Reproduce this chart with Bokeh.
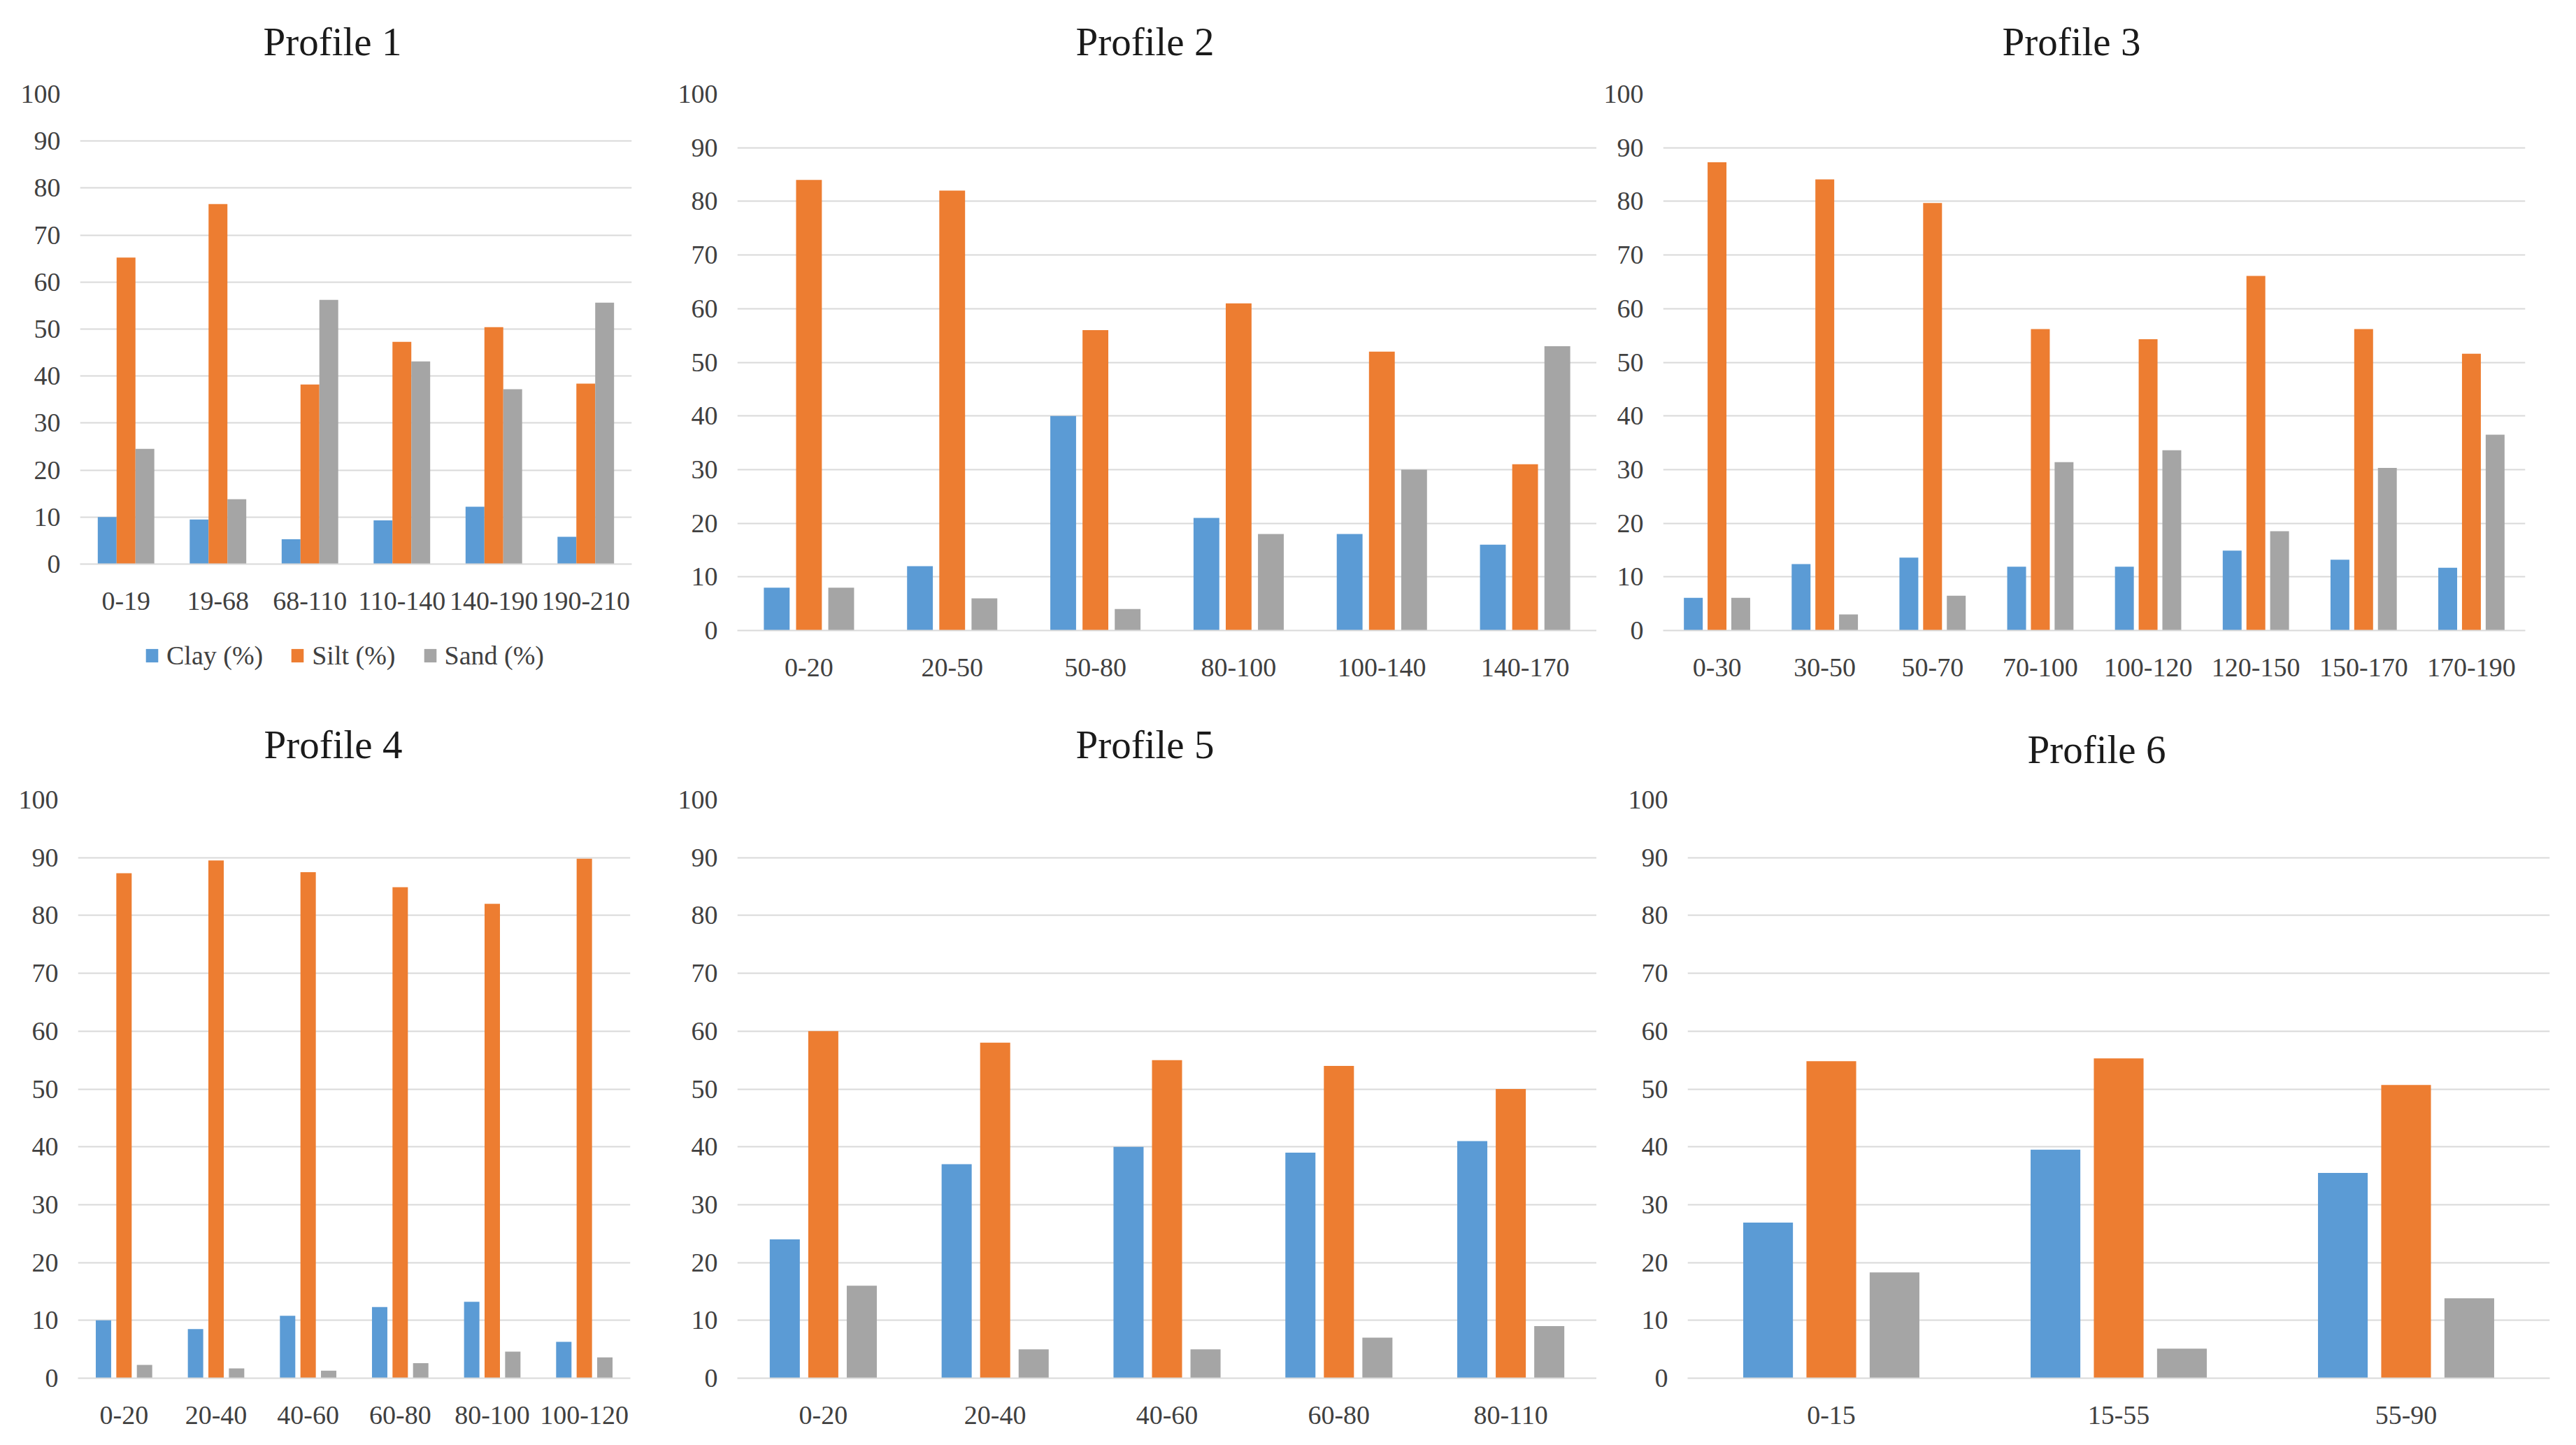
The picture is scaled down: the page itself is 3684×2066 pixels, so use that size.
from bokeh.plotting import figure
from bokeh.models import ColumnDataSource, FactorRange, Range1d, FixedTicker, Title, Legend, LegendItem
from bokeh.transform import dodge
from bokeh.layouts import column, row
from bokeh.embed import file_html
from bokeh.resources import INLINE

# ---------------- data ----------------
series_names = ["Clay (%)", "Silt (%)", "Sand (%)"]

p1_depths = ["0-19", "19-68", "68-110", "110-140", "140-190", "190-210"]
p1_clay = [10.0, 9.5, 5.3, 9.3, 12.2, 5.8]
p1_silt = [65.2, 76.6, 38.2, 47.3, 50.4, 38.4]
p1_sand = [24.5, 13.8, 56.2, 43.1, 37.2, 55.6]

p2_depths = ["0-20", "20-50", "50-80", "80-100", "100-140", "140-170"]
p2_clay = [8, 12, 40, 21, 18, 16]
p2_silt = [84, 82, 56, 61, 52, 31]
p2_sand = [8, 6, 4, 18, 30, 53]

p3_depths = ["0-30", "30-50", "50-70", "70-100", "100-120", "120-150", "150-170", "170-190"]
p3_clay = [6.1, 12.4, 13.6, 11.9, 11.9, 14.9, 13.2, 11.7]
p3_silt = [87.3, 84.1, 79.7, 56.2, 54.3, 66.1, 56.2, 51.6]
p3_sand = [6.1, 3.0, 6.5, 31.4, 33.6, 18.5, 30.3, 36.5]

p4_depths = ["0-20", "20-40", "40-60", "60-80", "80-100", "100-120"]
p4_clay = [10.0, 8.5, 10.8, 12.3, 13.2, 6.3]
p4_silt = [87.3, 89.5, 87.5, 84.9, 82.0, 89.8]
p4_sand = [2.3, 1.7, 1.3, 2.6, 4.6, 3.6]

p5_depths = ["0-20", "20-40", "40-60", "60-80", "80-110"]
p5_clay = [24, 37, 40, 39, 41]
p5_silt = [60, 58, 55, 54, 50]
p5_sand = [16, 5, 5, 7, 9]

p6_depths = ["0-15", "15-55", "55-90"]
p6_clay = [26.9, 39.5, 35.5]
p6_silt = [54.8, 55.3, 50.7]
p6_sand = [18.3, 5.1, 13.8]

y_ticks = list(range(0, 101, 10))

# ---------------- style ----------------
FONT = "Liberation Serif"
COLORS = ["#5B9BD5", "#ED7D31", "#A5A5A5"]
GRID_C = "#D9D9D9"
TICK_C = "#404040"
TITLE_C = "#1A1A1A"
TICK_FS = "38px"
TITLE_FS = 57
TITLE_W = 3.472 * TITLE_FS  # approx. rendered width of "Profile N"


def add_bars(p, depths, clay, silt, sand, bar_w, bar_off):
    src = ColumnDataSource(dict(depth=depths, clay=clay, silt=silt, sand=sand))
    rends = []
    for col, off, c in zip(["clay", "silt", "sand"], [-bar_off, 0, bar_off], COLORS):
        rr = p.vbar(x=dodge("depth", off, range=p.x_range), top=col, bottom=0,
                    width=bar_w, source=src, fill_color=c, line_color=None)
        rends.append(rr)
    return rends


def make(title, depths, clay, silt, sand, width, height, borders,
         bar_w, bar_off, title_cx, title_gap):
    l, r, t, b = borders
    p = figure(x_range=FactorRange(*depths), y_range=Range1d(0, 100),
               width=width, height=height,
               min_border_left=l, min_border_right=r,
               min_border_top=t, min_border_bottom=b,
               output_backend="svg", toolbar_location=None, tools="")
    add_bars(p, depths, clay, silt, sand, bar_w, bar_off)

    # an (almost) empty spacer title sits between the frame and the real title
    p.add_layout(Title(text=" ", text_font_size="1px", standoff=title_gap), "above")
    # title_cx: wanted centre of the title measured from the frame's left edge
    p.add_layout(Title(text=title, align="left", offset=int(title_cx - TITLE_W / 2),
                       standoff=0,
                       text_font=FONT, text_font_size=f"{TITLE_FS}px", text_font_style="normal",
                       text_color=TITLE_C), "above")

    p.outline_line_color = None
    p.background_fill_color = "white"
    p.border_fill_color = "white"
    p.xgrid.grid_line_color = None
    p.ygrid.grid_line_color = GRID_C
    p.ygrid.grid_line_width = 2

    p.yaxis.ticker = FixedTicker(ticks=y_ticks)
    p.yaxis.axis_line_color = None
    p.yaxis.major_tick_line_color = None
    p.yaxis.major_tick_out = 0
    p.yaxis.major_tick_in = 0
    p.yaxis.minor_tick_line_color = None
    p.yaxis.major_label_standoff = 28
    p.yaxis.major_label_text_font = FONT
    p.yaxis.major_label_text_font_size = TICK_FS
    p.yaxis.major_label_text_color = TICK_C

    p.xaxis.axis_line_color = GRID_C
    p.xaxis.axis_line_width = 2
    p.xaxis.major_tick_line_color = None
    p.xaxis.major_tick_out = 0
    p.xaxis.major_tick_in = 0
    p.xaxis.minor_tick_line_color = None
    p.xaxis.major_label_standoff = 40
    p.xaxis.major_label_text_line_height = 1.0
    p.xaxis.major_label_text_font = FONT
    p.xaxis.major_label_text_font_size = TICK_FS
    p.xaxis.major_label_text_color = TICK_C
    return p


p1 = make("Profile 1", p1_depths, p1_clay, p1_silt, p1_sand, 942, 892,
          (114, 39, 134, 86), 0.205, 0.205, 361, 41)
p2 = make("Profile 2", p2_depths, p2_clay, p2_silt, p2_sand, 1341, 992,
          (112, 0, 134, 91), 0.18, 0.225, 583, 41)
p3 = make("Profile 3", p3_depths, p3_clay, p3_silt, p3_sand, 1385, 992,
          (95, 57, 134, 91), 0.175, 0.22, 584, 41)
p4 = make("Profile 4", p4_depths, p4_clay, p4_silt, p4_sand, 942, 1058,
          (111, 41, 151, 80), 0.167, 0.223, 365, 45)
p5 = make("Profile 5", p5_depths, p5_clay, p5_silt, p5_sand, 1341, 1058,
          (112, 0, 151, 80), 0.175, 0.224, 583, 45)
p6 = make("Profile 6", p6_depths, p6_clay, p6_silt, p6_sand, 1385, 1058,
          (130, 22, 151, 80), 0.173, 0.22, 585, 38)

# legend strip under Profile 1: same bars on a shared x range, but with a
# y range far above the data so that only the legend is visible
leg_fig = figure(width=942, height=100, x_range=p1.x_range, y_range=Range1d(1000, 1001),
                 min_border_left=0, min_border_right=0, min_border_top=0, min_border_bottom=0,
                 output_backend="svg", toolbar_location=None, tools="")
leg_fig.xaxis.visible = False
leg_fig.yaxis.visible = False
leg_fig.grid.visible = False
leg_fig.outline_line_color = None
leg_fig.border_fill_color = "white"
leg_rends = add_bars(leg_fig, p1_depths, p1_clay, p1_silt, p1_sand, 0.205, 0.205)

legend = Legend(items=[LegendItem(label=nm, renderers=[rr]) for nm, rr in zip(series_names, leg_rends)],
                orientation="horizontal", location=(92, 33), padding=0, margin=0,
                spacing=38, label_standoff=10, glyph_width=22, glyph_height=24,
                border_line_color=None, background_fill_alpha=0,
                label_text_font=FONT, label_text_font_size=TICK_FS, label_text_color=TICK_C)
leg_fig.add_layout(legend)

layout = column(row(column(p1, leg_fig), p2, p3), row(p4, p5, p6))
open("out.html", "w").write(file_html(layout, INLINE))
